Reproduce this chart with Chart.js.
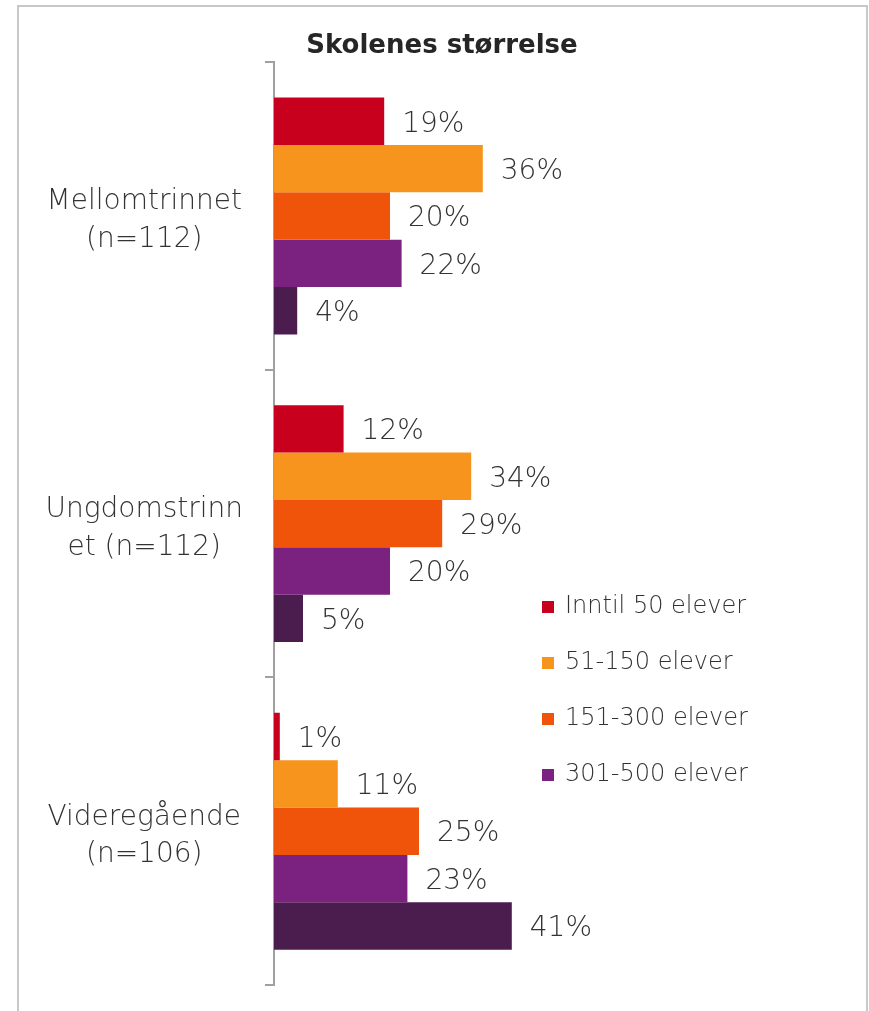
<!DOCTYPE html>
<html>
<head>
<meta charset="utf-8">
<title>Skolenes størrelse</title>
<script src="https://cdn.jsdelivr.net/npm/chart.js"></script>
<style>
  body { margin: 0; background: #fff; }
  #wrap { position: relative; width: 869px; height: 1011px; overflow: hidden; }
  #frame { position: absolute; left: 17px; top: 5px; width: 847px; height: 1030px; border: 2px solid #c8c8c8; }
  canvas { position: absolute; left: 0; top: 0; }
</style>
</head>
<body>
<div id="wrap">
  <div id="frame"></div>
  <canvas id="chart" width="869" height="1011"></canvas>
</div>
<script>
// data
const categories = [
  ['Mellomtrinnet', '(n=112)'],
  ['Ungdomstrinn', 'et (n=112)'],
  ['Videregående', '(n=106)']
];
const seriesNames = ['Inntil 50 elever', '51-150 elever', '151-300 elever', '301-500 elever', 'Over 500 elever'];
const inntil50 = [19, 12, 1];
const elever51_150 = [36, 34, 11];
const elever151_300 = [20, 29, 25];
const elever301_500 = [22, 20, 23];
const over500 = [4, 5, 41];
const colors = ['#c8001e', '#f7941d', '#f0540a', '#7b217f', '#4b1d4f'];

const textFont = '"DejaVu Sans"';
const labelColor = '#333333';

// etiketter med prosent til høyre for stolpene
const valueLabels = {
  id: 'valueLabels',
  afterDatasetsDraw(chart) {
    const ctx = chart.ctx;
    ctx.save();
    ctx.font = '200 28px ' + textFont;
    ctx.fillStyle = labelColor;
    ctx.textBaseline = 'middle';
    ctx.textAlign = 'left';
    chart.data.datasets.forEach((ds, i) => {
      chart.getDatasetMeta(i).data.forEach((bar, j) => {
        ctx.fillText(ds.data[j] + '%', bar.x + 18, bar.y + 3);
      });
    });
    ctx.restore();
  }
};

// legenden inne i plottet (bare fire synlige, som i originalen)
const insideLegend = {
  id: 'insideLegend',
  afterDraw(chart) {
    const ctx = chart.ctx;
    ctx.save();
    ctx.font = '200 24px ' + textFont;
    ctx.textBaseline = 'middle';
    for (let i = 0; i < 4; i++) {
      const y = 607 + i * 56;
      ctx.fillStyle = colors[i];
      ctx.fillRect(542, y - 6, 12, 12);
      ctx.fillStyle = labelColor;
      ctx.fillText(seriesNames[i], 565, y);
    }
    ctx.restore();
  }
};

const datasets = [inntil50, elever51_150, elever151_300, elever301_500, over500].map((d, i) => ({
  label: seriesNames[i],
  data: d,
  backgroundColor: colors[i],
  borderWidth: 0,
  categoryPercentage: 0.77,
  barPercentage: 1
}));

new Chart(document.getElementById('chart'), {
  type: 'bar',
  data: { labels: categories, datasets: datasets },
  plugins: [valueLabels, insideLegend],
  options: {
    indexAxis: 'y',
    responsive: false,
    animation: false,
    devicePixelRatio: 1,
    layout: { padding: { left: 30, right: 15, top: 0, bottom: 26 } },
    plugins: {
      legend: { display: false },
      tooltip: { enabled: false },
      title: {
        display: true,
        text: 'Skolenes størrelse',
        color: '#262626',
        font: { family: 'DejaVu Sans', size: 26, weight: 'bold' },
        padding: { top: 31, bottom: 0 }
      }
    },
    scales: {
      x: { display: false, min: 0, max: 100 },
      y: {
        afterFit(scale) {
          scale.width = 244;
          scale.paddingTop = 0;
          scale.paddingBottom = 0;
        },
        border: { display: true, color: '#a0a0a0', width: 2 },
        grid: { display: true, drawOnChartArea: false, drawTicks: true, tickLength: 9, color: '#a0a0a0', lineWidth: 2, offset: true },
        ticks: {
          crossAlign: 'center',
          padding: 22,
          labelOffset: 5,
          color: labelColor,
          font: { family: 'DejaVu Sans', size: 28, weight: 200, lineHeight: 1.35 }
        }
      }
    }
  }
});
</script>
</body>
</html>
